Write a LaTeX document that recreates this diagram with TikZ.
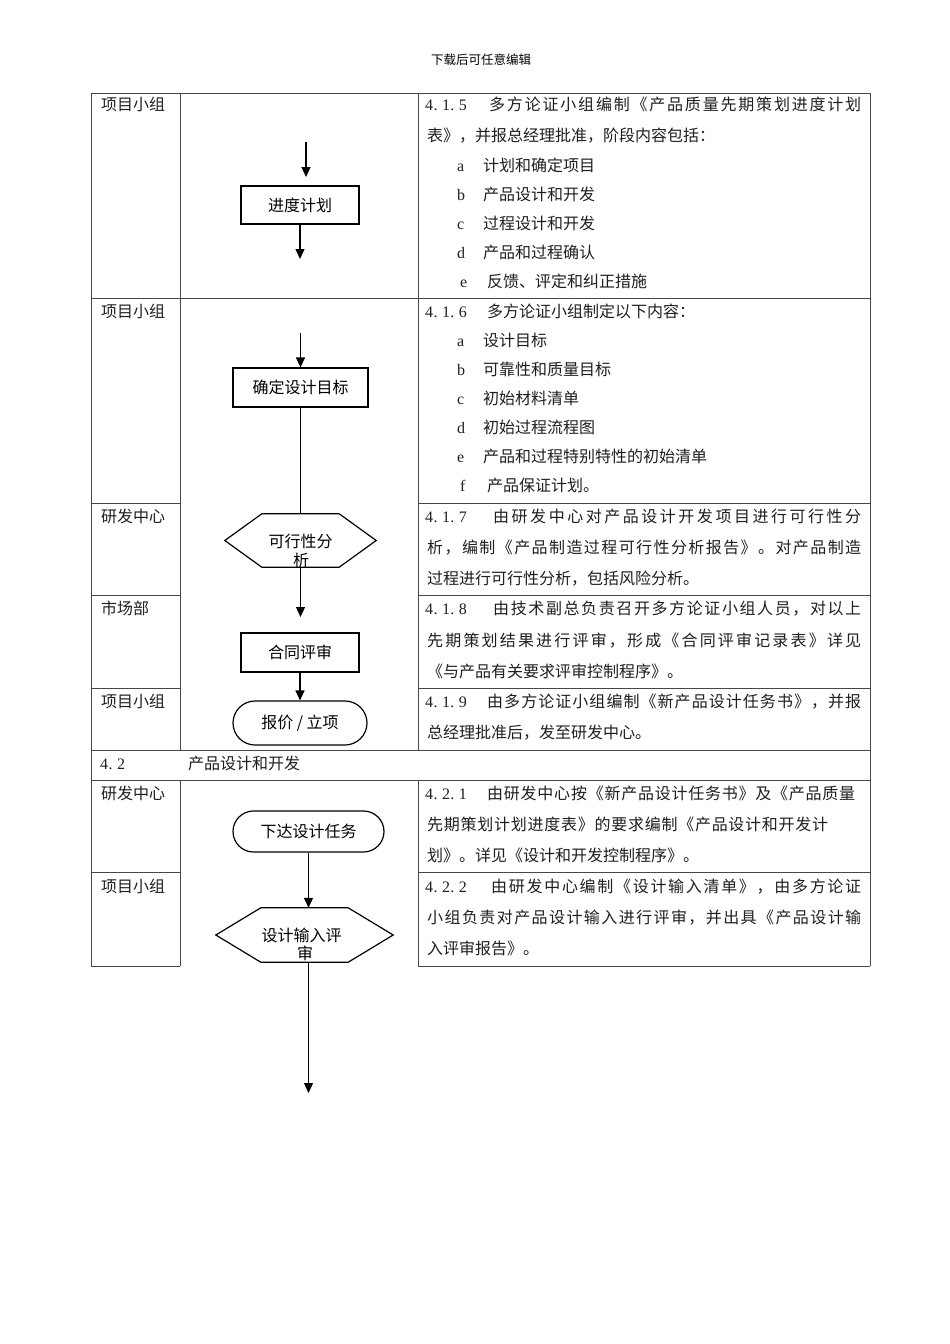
\documentclass[tikz,border=0pt]{standalone}
\usepackage{fontspec}
\setmainfont{Noto Sans CJK SC}
\newfontfamily\lat{Liberation Serif}
\usetikzlibrary{arrows.meta,shapes.misc}
\newcommand\fsz[1]{\fontsize{#1pt}{#1pt}\selectfont}
\def\sprStop{}
\newcommand\spr[1]{\sprA#1\sprStop}
\def\sprA#1{\ifx#1\sprStop\else#1\hfil\expandafter\sprA\fi}
\newcommand\jl[2]{\hbox to #1pt{\spr{#2}\unskip}}
\def\monoStop{}
\newcommand\mono[1]{\monoA#1\monoStop}
\def\monoA#1{\ifx#1\monoStop\else\makebox[8.4pt][l]{#1}\expandafter\monoA\fi}
\tikzset{
  tline/.style={draw=black!72, line width=0.9pt},
  txt/.style={anchor=base west, inner sep=0pt, font=\fsz{16}, text=black!88},
  num/.style={anchor=base west, inner sep=0pt, font=\lat\fsz{16}, text=black!88},
  fbox/.style={draw, line width=1.2pt, rectangle, inner sep=0pt, font=\fsz{16}},
  rbox/.style={draw, line width=1.2pt, rounded rectangle, inner sep=0pt, font=\fsz{16}},
  hexarea/.style={draw=none, inner sep=0pt, rectangle},
  hexline/.style={draw, line width=1.2pt, fill=white},
  ftext/.style={inner sep=0pt, font=\fsz{16}},
  arr/.style={line width=1.2pt, -{Triangle[length=10pt,width=9pt]}},
  plain/.style={line width=1.2pt}
}
\begin{document}
\begin{tikzpicture}[x=1pt,y=-1pt]
\fill[white] (0,0) rectangle (950,1344);
\useasboundingbox (0,0) rectangle (950,1344);

% header
\node[inner sep=0pt, font=\fsz{12.5}] (hdr) at (481,60) {下载后可任意编辑};

% table lines
\draw[tline] (91,93) -- (870,93);
\draw[tline] (91,298) -- (870,298);
\draw[tline] (91,750) -- (870,750);
\draw[tline] (91,780) -- (870,780);
\foreach \yy in {503,595,688,872,966}{
  \draw[tline] (91,\yy) -- (180,\yy);
  \draw[tline] (418,\yy) -- (870,\yy);
}
\draw[tline] (91,93) -- (91,966);
\draw[tline] (870,93) -- (870,966);
\draw[tline] (180,93) -- (180,750);
\draw[tline] (418,93) -- (418,750);
\draw[tline] (180,780) -- (180,966);
\draw[tline] (418,780) -- (418,966);

% left labels
\node[txt] (L1) at (101,110) {项目小组};
\node[txt] (L2) at (101,317) {项目小组};
\node[txt] (L3) at (101,522) {研发中心};
\node[txt] (L4) at (101,614) {市场部};
\node[txt] (L5) at (101,707) {项目小组};
\node[txt] (L6) at (101,799) {研发中心};
\node[txt] (L7) at (101,892) {项目小组};

% 4.1.5
\node[num] (n415) at (425,110) {\mono{4.1.5}};
\node[txt] (t415a) at (489,110) {\jl{372}{多方论证小组编制《产品质量先期策划进度计划}};
\node[txt] (t415b) at (427,141) {表》，并报总经理批准，阶段内容包括：};
\node[num] (l415a) at (457,171) {a};
\node[txt] (i415a) at (483,171) {计划和确定项目};
\node[num] (l415b) at (457,200) {b};
\node[txt] (i415b) at (483,200) {产品设计和开发};
\node[num] (l415c) at (457,229) {c};
\node[txt] (i415c) at (483,229) {过程设计和开发};
\node[num] (l415d) at (457,258) {d};
\node[txt] (i415d) at (483,258) {产品和过程确认};
\node[num] (l415e) at (460,287) {e};
\node[txt] (i415e) at (487,287) {反馈、评定和纠正措施};

% 4.1.6
\node[num] (n416) at (425,317) {\mono{4.1.6}};
\node[txt] (t416a) at (487,317) {多方论证小组制定以下内容：};
\node[num] (l416a) at (457,346) {a};
\node[txt] (i416a) at (483,346) {设计目标};
\node[num] (l416b) at (457,375) {b};
\node[txt] (i416b) at (483,375) {可靠性和质量目标};
\node[num] (l416c) at (457,404) {c};
\node[txt] (i416c) at (483,404) {初始材料清单};
\node[num] (l416d) at (457,433) {d};
\node[txt] (i416d) at (483,433) {初始过程流程图};
\node[num] (l416e) at (457,462) {e};
\node[txt] (i416e) at (483,462) {产品和过程特别特性的初始清单};
\node[num] (l416f) at (460,491) {f};
\node[txt] (i416f) at (487,491) {产品保证计划。};

% 4.1.7
\node[num] (n417) at (425,522) {\mono{4.1.7}};
\node[txt] (t417a) at (493,522) {\jl{368}{由研发中心对产品设计开发项目进行可行性分}};
\node[txt] (t417b) at (427,553) {\jl{434}{析，编制《产品制造过程可行性分析报告》。对产品制造}};
\node[txt] (t417c) at (427,584) {过程进行可行性分析，包括风险分析。};

% 4.1.8
\node[num] (n418) at (425,614) {\mono{4.1.8}};
\node[txt] (t418a) at (493,614) {\jl{368}{由技术副总负责召开多方论证小组人员，对以上}};
\node[txt] (t418b) at (427,646) {\jl{434}{先期策划结果进行评审，形成《合同评审记录表》详见}};
\node[txt] (t418c) at (427,677) {《与产品有关要求评审控制程序》。};

% 4.1.9
\node[num] (n419) at (425,707) {\mono{4.1.9}};
\node[txt] (t419a) at (487,707) {\jl{374}{由多方论证小组编制《新产品设计任务书》，并报}};
\node[txt] (t419b) at (427,738) {总经理批准后，发至研发中心。};

% 4.2
\node[num] (n42) at (100,769) {\mono{4.2}};
\node[txt] (t42) at (188,769) {产品设计和开发};

% 4.2.1
\node[num] (n421) at (425,799) {\mono{4.2.1}};
\node[txt] (t421a) at (487,799) {\jl{368}{由研发中心按《新产品设计任务书》及《产品质量}};
\node[txt] (t421b) at (427,830) {\jl{401}{先期策划计划进度表》的要求编制《产品设计和开发计}};
\node[txt] (t421c) at (427,861) {划》。详见《设计和开发控制程序》。};

% 4.2.2
\node[num] (n422) at (425,892) {\mono{4.2.2}};
\node[txt] (t422a) at (491,892) {\jl{370}{由研发中心编制《设计输入清单》，由多方论证}};
\node[txt] (t422b) at (427,923) {\jl{434}{小组负责对产品设计输入进行评审，并出具《产品设计输}};
\node[txt] (t422c) at (427,954) {入评审报告》。};

% ---- flow ----
\coordinate (p1) at (306,142);
\coordinate (p2) at (306,177);
\draw[arr] (p1) -- (p2);
\node[fbox, minimum width=118, minimum height=38] (plan) at (300,205) {进度计划};
\coordinate (p3) at (300,259);
\draw[arr] (plan.south) -- (p3);

\coordinate (g0) at (300.5,333);
\node[fbox, minimum width=135, minimum height=39] (goal) at (300.5,387.5) {确定设计目标};
\draw[arr] (g0) -- (goal.north);

\node[hexarea, minimum width=151, minimum height=53] (feas) at (300.5,540.5) {};
\draw[plain] (goal.south) -- (feas.north);
\draw[hexline] (feas.west) -- ([xshift=37pt]feas.north west) -- ([xshift=-37pt]feas.north east)
  -- (feas.east) -- ([xshift=-37pt]feas.south east) -- ([xshift=37pt]feas.south west) -- cycle;
\node[ftext] (feasT1) at (300.5,541) {可行性分};
\node[ftext] (feasT2) at (301,560) {析};
\coordinate (c4) at (300.5,617);
\draw[arr] (feas.south) -- (c4);

\node[fbox, minimum width=118, minimum height=39] (contract) at (300,652.5) {合同评审};
\node[rbox, minimum width=134, minimum height=44] (quote) at (300,723) {报价 / 立项};
\draw[arr] (contract.south) -- (quote.north);

\node[rbox, minimum width=151, minimum height=41] (task) at (308.5,831.5) {下达设计任务};
\node[hexarea, minimum width=177, minimum height=54] (review) at (304.5,935) {};
\draw[hexline] (review.west) -- ([xshift=45pt]review.north west) -- ([xshift=-45pt]review.north east)
  -- (review.east) -- ([xshift=-45pt]review.south east) -- ([xshift=45pt]review.south west) -- cycle;
\draw[arr] (task.south) -- (task.south |- review.north);
\node[ftext] (revT1) at (301.5,935) {设计输入评};
\node[ftext] (revT2) at (305,953) {审};
\coordinate (rend) at (308.5,1093);
\draw[arr] (rend |- review.south) -- (rend);
\end{tikzpicture}
\end{document}
